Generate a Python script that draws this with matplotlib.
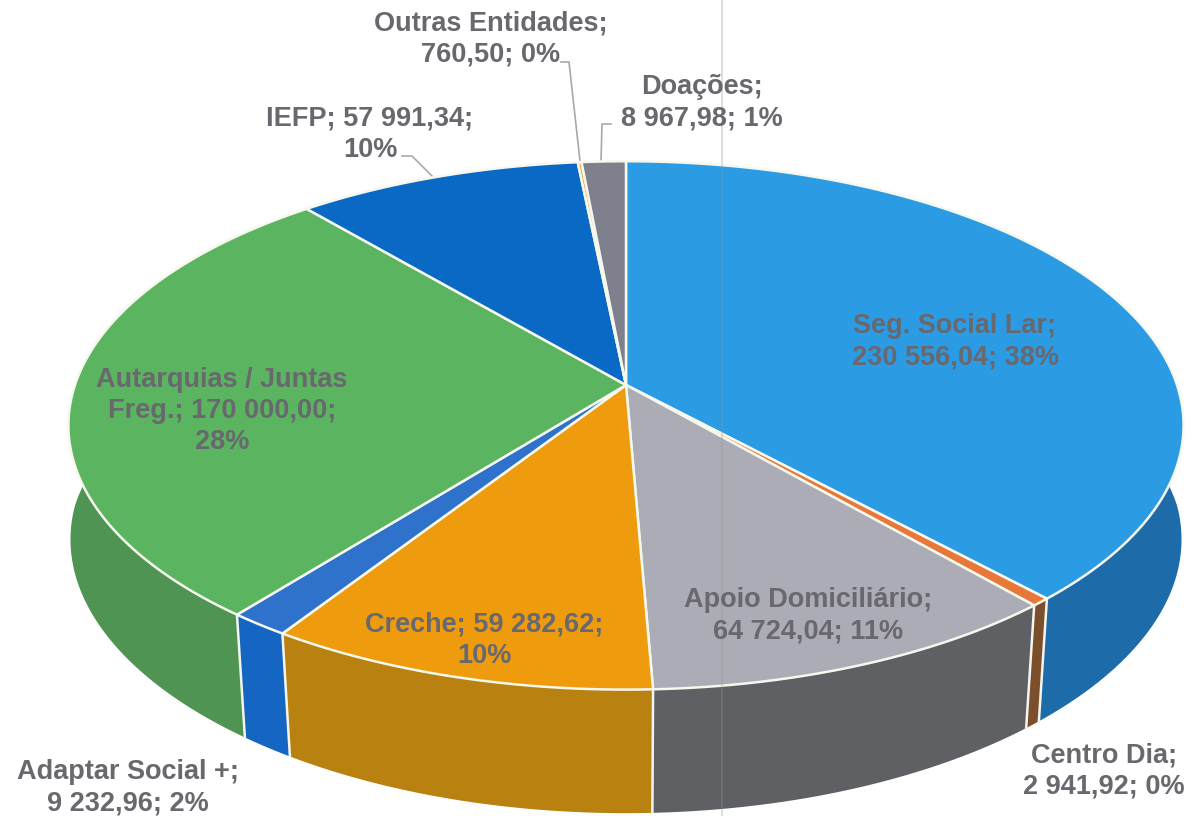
import numpy as np
import matplotlib
matplotlib.use('Agg')
import matplotlib.pyplot as plt

values = [230556.04, 2941.92, 64724.04, 59282.62, 9232.96, 170000.00, 57991.34, 760.50, 8967.98]
labels = [
    'Seg. Social Lar;\n230 556,04; 38%',
    'Centro Dia;\n2 941,92; 0%',
    'Apoio Domiciliário;\n64 724,04; 11%',
    'Creche; 59 282,62;\n10%',
    'Adaptar Social +;\n9 232,96; 2%',
    'Autarquias / Juntas\nFreg.; 170 000,00;\n28%',
    'IEFP; 57 991,34;\n10%',
    'Outras Entidades;\n760,50; 0%',
    'Doações;\n8 967,98; 1%',
]
top_colors = ['#2b9be4', '#e8773a', '#abacb6', '#ee9c0e', '#2e72cb', '#5bb45f', '#0a69c4', '#ef9a3c', '#7f808e']
side_colors = ['#1d6ba9', '#7b4f2b', '#5f6064', '#b9810f', '#1565c2', '#4f9452', '#0a4f94', '#8a5a20', '#55565f']
label_pos = [(955, 342), (1104, 771), (808, 616), (484, 640), (128, 788), (222, 411), (370, 134), (491, 39), (702, 103)]

# Leader lines: label end, elbow, end on the pie
leaders = [
    [(561, 62), (569, 62), (580, 161)],
    [(611, 124), (602, 124), (601, 161)],
    [(402, 156), (412, 156), (432, 176)],
]

# Pie geometry in pixels, with the perspective of the 3D chart
cx, cy = 626, 385
rx, ry = 551, 258
persp = 0.153
depth = 120.5
text_color = '#68686e'


def top_point(theta):
    u, v = np.sin(theta), np.cos(theta)
    w = 1 + persp * v
    return cx + rx * u / w, cy - ry * v / w


def bottom_point(theta):
    x, y = top_point(theta)
    # the lower rim only narrows towards the front
    shrink = 1 + 0.026 * np.minimum(np.cos(theta), 0)
    return cx + (x - cx) * shrink, cy + (y - cy) * 1.01 + depth


fig = plt.figure(figsize=(11.94, 8.16), dpi=100)
ax = fig.add_axes([0, 0, 1, 1])
ax.set_xlim(0, 1194)
ax.set_ylim(816, 0)
ax.axis('off')

edges = np.cumsum([0] + values) / sum(values) * 2 * np.pi

# Sides first, the top faces cover whatever is at the back
for i in range(len(values)):
    t = np.linspace(edges[i], edges[i + 1], 120)
    xt, yt = top_point(t)
    xb, yb = bottom_point(t)
    ax.fill(np.r_[xt, xb[::-1]], np.r_[yt, yb[::-1]], color=side_colors[i], lw=0, zorder=2)

for i in range(len(values)):
    if np.cos(edges[i]) < 0:
        xt, yt = top_point(edges[i])
        xb, yb = bottom_point(edges[i])
        ax.plot([xt, xb], [yt, yb], color='#f4f6ee', lw=1.8, zorder=3)

for i in range(len(values)):
    t = np.linspace(edges[i], edges[i + 1], 120)
    xt, yt = top_point(t)
    ax.fill(np.r_[cx, xt], np.r_[cy, yt], facecolor=top_colors[i], edgecolor='#f6f8ee',
            lw=1.8, joinstyle='round', zorder=4)

for line in leaders:
    ax.plot(*zip(*line), color='#a9a9a9', lw=1.2, zorder=1)

for text, pos in zip(labels, label_pos):
    ax.text(pos[0], pos[1], text, ha='center', va='center', color=text_color, fontsize=19.5,
            fontweight='bold', family='Liberation Sans', linespacing=1.27, zorder=6)

# Faint vertical streak left by the scanner
ax.axvline(722, color='#8a9a90', lw=1.2, alpha=0.35, zorder=5)

fig.savefig('out.png', dpi=100, facecolor='white')
